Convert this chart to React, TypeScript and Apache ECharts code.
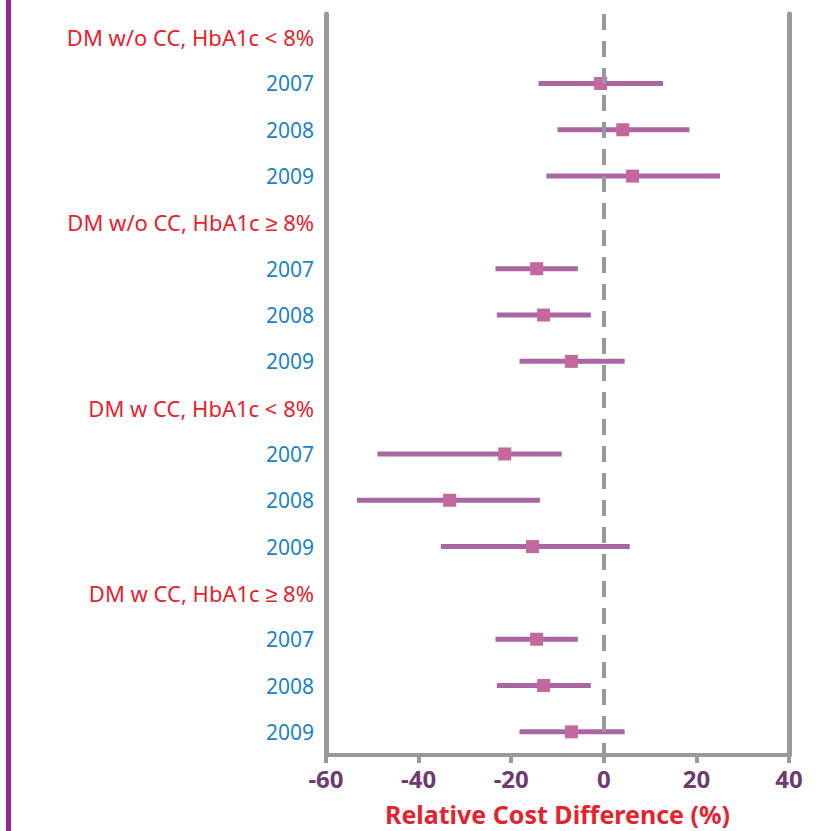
import React, { useEffect, useRef } from "react";
import * as echarts from "echarts";

const groups = [
  "DM w/o CC, HbA1c < 8%",
  "DM w/o CC, HbA1c ≥ 8%",
  "DM w CC, HbA1c < 8%",
  "DM w CC, HbA1c ≥ 8%",
];
const years = ["2007", "2008", "2009"];
// estimates, lower and upper bounds per group (rows: groups, cols: years)
const estimates = [
  [-0.7, 4.1, 6.2],
  [-14.5, -13.0, -7.0],
  [-21.4, -33.3, -15.4],
  [-14.5, -13.0, -7.0],
];
const lowers = [
  [-14.1, -10.0, -12.4],
  [-23.4, -23.1, -18.2],
  [-48.9, -53.3, -35.2],
  [-23.4, -23.1, -18.2],
];
const uppers = [
  [12.8, 18.5, 25.1],
  [-5.6, -2.8, 4.5],
  [-9.1, -13.8, 5.6],
  [-5.6, -2.8, 4.5],
];
const xTicks = { min: -60, max: 40, interval: 20 };
const axisTitle = "Relative Cost Difference (%)";

const rowLabels: string[] = [];
const rowIsHeader: boolean[] = [];
const seriesData: number[][] = [];
groups.forEach((g, gi) => {
  rowLabels.push(g);
  rowIsHeader.push(true);
  years.forEach((y, yi) => {
    const idx = rowLabels.length;
    rowLabels.push(y);
    rowIsHeader.push(false);
    seriesData.push([idx, lowers[gi][yi], estimates[gi][yi], uppers[gi][yi]]);
  });
});
const categories = rowLabels.map((_, i) => String(i));

const GRAY = "#999999";
const FONT = "'Noto Sans', sans-serif";

export default function App() {
  const ref = useRef<HTMLDivElement>(null);
  useEffect(() => {
    if (!ref.current) return;
    const chart = echarts.init(ref.current, undefined, { renderer: "svg" });
    chart.setOption({
      animation: false,
      backgroundColor: "#ffffff",
      grid: { left: 326, right: 50, top: 14, bottom: 75 },
      graphic: [
        {
          type: "rect",
          left: 6,
          top: 0,
          shape: { width: 5, height: 831 },
          style: { fill: "#92278F" },
        },
      ],
      xAxis: {
        type: "value",
        min: xTicks.min,
        max: xTicks.max,
        interval: xTicks.interval,
        splitLine: { show: false },
        axisLine: { show: true, onZero: false, lineStyle: { color: GRAY, width: 4 } },
        axisTick: { show: true, length: 8, lineStyle: { color: GRAY, width: 4 } },
        axisLabel: {
          color: "#6E3A6F",
          fontSize: 24,
          fontWeight: "bold",
          fontFamily: FONT,
          margin: 11,
        },
        name: axisTitle,
        nameLocation: "middle",
        nameGap: 46,
        nameTextStyle: {
          color: "#E5232E",
          fontSize: 25,
          fontWeight: "bold",
          fontFamily: FONT,
        },
      },
      yAxis: [
        {
          type: "category",
          data: categories,
          inverse: true,
          axisLine: { show: true, onZero: false, lineStyle: { color: GRAY, width: 5 } },
          axisTick: { show: false },
          splitLine: { show: false },
          axisLabel: {
            margin: 12,
            formatter: (v: string) => {
              const i = Number(v);
              return rowIsHeader[i] ? `{h|${rowLabels[i]}}` : `{y|${rowLabels[i]}}`;
            },
            rich: {
              h: { color: "#E5232E", fontSize: 22, fontFamily: FONT },
              y: { color: "#1B83C5", fontSize: 21, fontFamily: FONT },
            },
          },
        },
        {
          type: "category",
          data: categories,
          inverse: true,
          position: "right",
          axisLine: { show: true, onZero: false, lineStyle: { color: GRAY, width: 5 } },
          axisTick: { show: false },
          axisLabel: { show: false },
          splitLine: { show: false },
        },
      ],
      series: [
        {
          type: "line",
          data: [],
          z: 1,
          markLine: {
            silent: true,
            symbol: "none",
            label: { show: false },
            lineStyle: { color: GRAY, width: 4, type: [16, 11] },
            data: [{ xAxis: 0 }],
          },
        },
        {
          type: "custom",
          z: 3,
          encode: { x: [1, 2, 3], y: 0 },
          data: seriesData,
          renderItem: (params: any, api: any) => {
            const y = api.value(0);
            const lo = api.coord([api.value(1), y]);
            const mid = api.coord([api.value(2), y]);
            const hi = api.coord([api.value(3), y]);
            return {
              type: "group",
              children: [
                {
                  type: "line",
                  shape: { x1: lo[0], y1: lo[1], x2: hi[0], y2: hi[1] },
                  style: { stroke: "#A966A3", lineWidth: 5 },
                },
                {
                  type: "rect",
                  shape: { x: mid[0] - 6.5, y: mid[1] - 6.5, width: 13, height: 13 },
                  style: { fill: "#C4689C" },
                },
              ],
            };
          },
        },
      ],
    });
    return () => chart.dispose();
  }, []);
  return (
    <div
      ref={ref}
      style={{ position: "fixed", left: 0, top: 0, width: 839, height: 831 }}
    />
  );
}
